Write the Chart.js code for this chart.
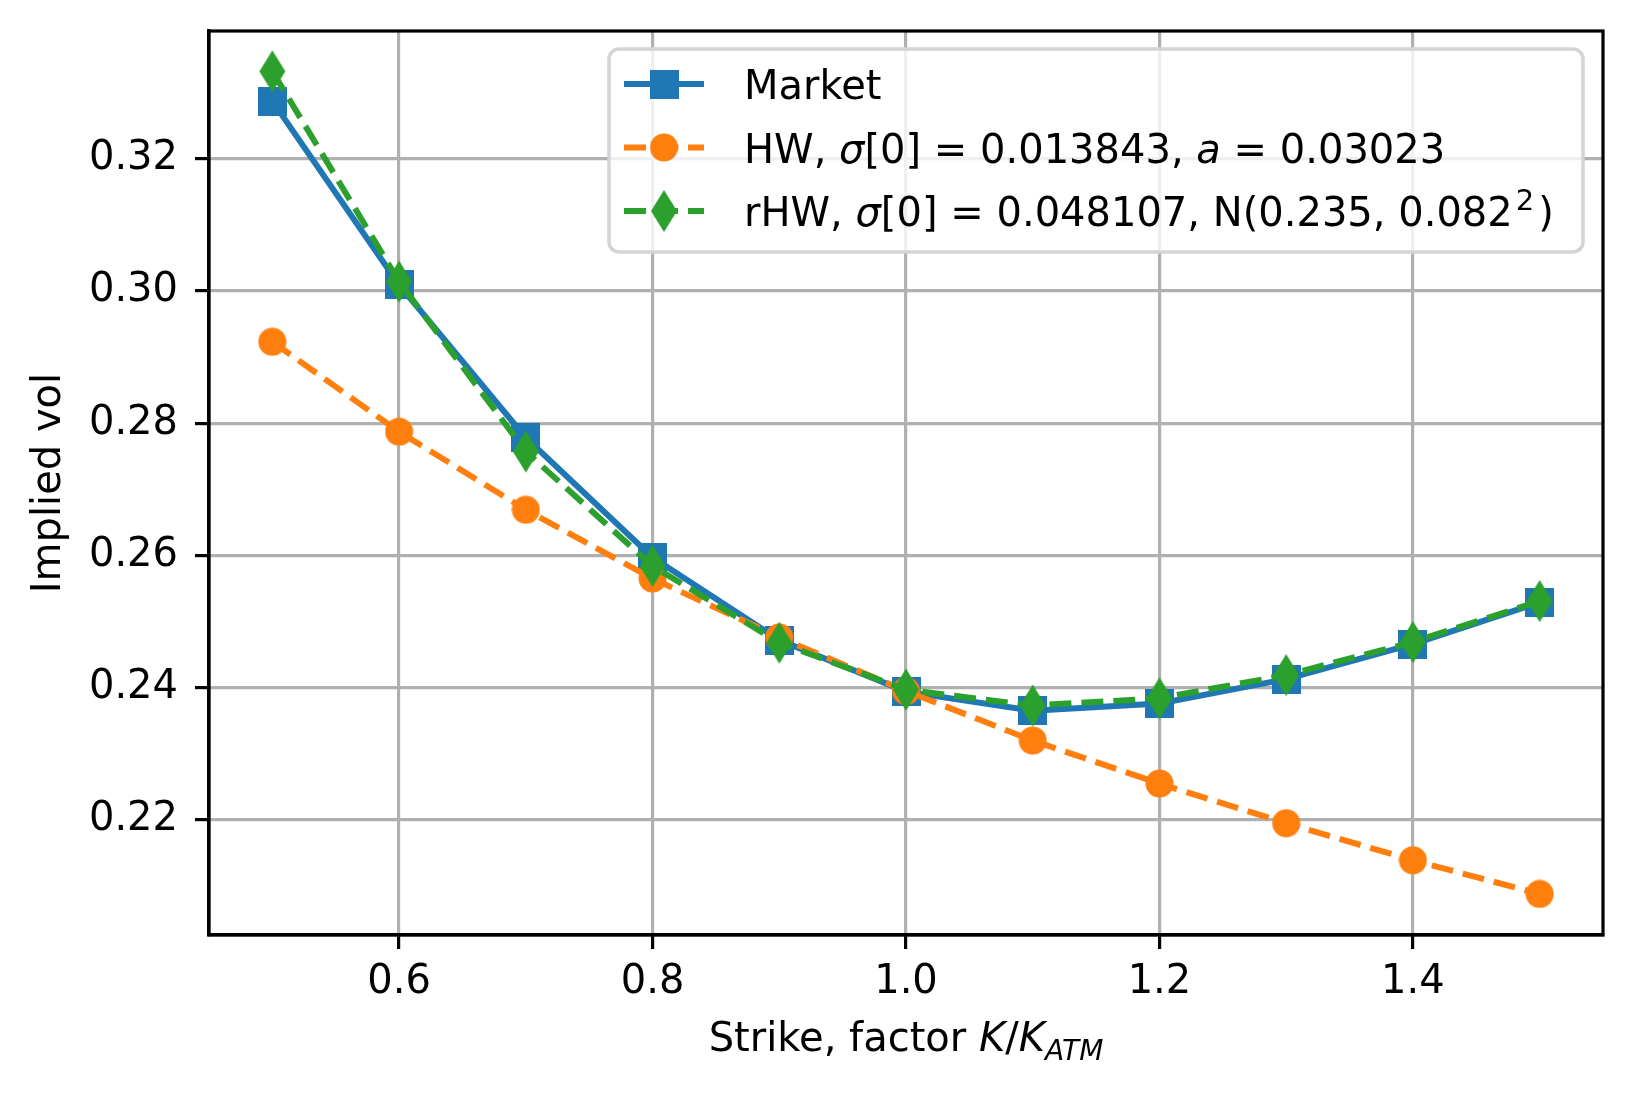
<!DOCTYPE html>
<html>
<head>
<meta charset="utf-8">
<script src="https://cdn.jsdelivr.net/npm/chart.js@4.4.1/dist/chart.umd.min.js"></script>
<style>
  html, body { margin: 0; padding: 0; background: #fff; }
  canvas { display: block; }
</style>
</head>
<body>
<canvas id="myChart" width="1633" height="1093"></canvas>
<script>
/* values */
const strikes = [0.5, 0.6, 0.7, 0.8, 0.9, 1.0, 1.1, 1.2, 1.3, 1.4, 1.5];
const market  = [0.3287, 0.3009, 0.2778, 0.2597, 0.2472, 0.2394, 0.2365, 0.2376, 0.2413, 0.2466, 0.2529];
const hw      = [0.2923, 0.2787, 0.2669, 0.2565, 0.2476, 0.2395, 0.2320, 0.2255, 0.2195, 0.2139, 0.2088];
const rhw     = [0.3332, 0.3014, 0.2757, 0.2584, 0.2468, 0.2397, 0.2373, 0.2384, 0.2419, 0.2469, 0.2531];

const xLimits = [0.45, 1.55];
const yLimits = [0.2026, 0.3393];
const xStep = 0.2;
const yStep = 0.02;

const BLUE = '#1f77b4', ORANGE = '#ff7f0e', GREEN = '#2ca02c';
const FONT = '"DejaVu Sans", sans-serif';
const dash = [22, 10];

// marker images, same ones used for the legend
function marker(w, h, color, draw){
  const c = document.createElement('canvas');
  c.width = w; c.height = h;
  const g = c.getContext('2d');
  g.fillStyle = color;
  draw(g, w, h);
  return c;
}
const squareImg = marker(29, 29, BLUE, (g, w, h) => g.fillRect(0, 0, w, h));
const circleImg = marker(29, 29, ORANGE, (g, w, h) => {
  g.beginPath(); g.arc(w/2, h/2, 14, 0, Math.PI*2); g.fill();
});
const diamondImg = marker(28, 43, GREEN, (g, w, h) => {
  g.beginPath();
  g.moveTo(w/2, 0.5); g.lineTo(w-1, h/2); g.lineTo(w/2, h-0.5); g.lineTo(1, h/2);
  g.closePath(); g.fill();
});

function pts(ys){
  return strikes.map((x, i) => ({x: x, y: ys[i]}));
}

// draw a run of text pieces (italic, sub/superscript) starting at x
function richWidth(ctx, parts){
  let w = 0;
  parts.forEach(p => {
    ctx.font = (p.it ? 'italic ' : '') + (p.size || 40) + 'px ' + FONT;
    w += ctx.measureText(p.t).width + (p.gap || 0);
  });
  return w;
}
function drawRich(ctx, x, y, parts){
  ctx.textAlign = 'left';
  ctx.textBaseline = 'alphabetic';
  ctx.fillStyle = '#000';
  parts.forEach(p => {
    ctx.font = (p.it ? 'italic ' : '') + (p.size || 40) + 'px ' + FONT;
    ctx.fillText(p.t, x, y + (p.dy || 0));
    x += ctx.measureText(p.t).width + (p.gap || 0);
  });
}

const legendRows = [
  {color: BLUE, dash: [], img: squareImg, parts: [{t: 'Market'}]},
  {color: ORANGE, dash: dash, img: circleImg, parts: [
    {t: 'HW, '}, {t: 'σ', it: true}, {t: '[0] = 0.013843, '}, {t: 'a', it: true}, {t: ' = 0.03023'}]},
  {color: GREEN, dash: dash, img: diamondImg, parts: [
    {t: 'rHW, '}, {t: 'σ', it: true}, {t: '[0] = 0.048107, N(0.235, 0.082', gap: 3},
    {t: '2', size: 29, dy: -16, gap: 4}, {t: ')'}]}
];

const decorations = {
  id: 'decorations',
  afterDraw(chart){
    const ctx = chart.ctx;
    const a = chart.chartArea;
    ctx.save();
    // spines
    ctx.strokeStyle = '#000';
    ctx.lineWidth = 3.2;
    ctx.strokeRect(a.left, a.top, a.right - a.left, a.bottom - a.top);

    // axis titles
    const xt = [{t: 'Strike, factor '}, {t: 'K', it: true}, {t: '/'}, {t: 'K', it: true},
                {t: 'ATM', it: true, size: 28, dy: 9}];
    const cx = (a.left + a.right) / 2;
    drawRich(ctx, cx - richWidth(ctx, xt) / 2, 1051, xt);

    ctx.save();
    ctx.translate(60, (a.top + a.bottom) / 2);
    ctx.rotate(-Math.PI / 2);
    ctx.font = '40px ' + FONT;
    ctx.fillStyle = '#000';
    ctx.textAlign = 'center';
    ctx.textBaseline = 'alphabetic';
    ctx.fillText('Implied vol', 0, 0);
    ctx.restore();

    // legend box
    const bx = 609, by = 49, bw = 974, bh = 203;
    ctx.beginPath();
    ctx.roundRect(bx, by, bw, bh, 10);
    ctx.fillStyle = 'rgba(255,255,255,0.8)';
    ctx.fill();
    ctx.strokeStyle = '#d4d4d4';
    ctx.lineWidth = 3.5;
    ctx.stroke();

    legendRows.forEach((row, i) => {
      const cy = 84 + i * 63.5;
      ctx.beginPath();
      ctx.setLineDash(row.dash);
      ctx.strokeStyle = row.color;
      ctx.lineWidth = 6;
      ctx.moveTo(624, cy);
      ctx.lineTo(704, cy);
      ctx.stroke();
      ctx.setLineDash([]);
      ctx.drawImage(row.img, 664 - row.img.width / 2, cy - row.img.height / 2);
      drawRich(ctx, 744, cy + 15, row.parts);
    });
    ctx.restore();
  }
};

function line(label, ys, color, img, dashed, order){
  return {
    label: label,
    data: pts(ys),
    borderColor: color,
    backgroundColor: color,
    borderWidth: 6,
    borderDash: dashed ? dash : [],
    pointStyle: img,
    pointRadius: 14,
    tension: 0,
    order: order
  };
}

const ctx = document.getElementById('myChart');
const myChart = new Chart(ctx, {
  type: 'line',
  plugins: [decorations],
  data: {
    datasets: [
      line('Market', market, BLUE, squareImg, false, 3),
      line('HW', hw, ORANGE, circleImg, true, 2),
      line('rHW', rhw, GREEN, diamondImg, true, 1)
    ]
  },
  options: {
    responsive: false,
    animation: false,
    events: [],
    layout: { padding: { top: 31, right: 30, left: 0, bottom: 0 } },
    plugins: {
      legend: { display: false },
      tooltip: { enabled: false }
    },
    scales: {
      x: {
        type: 'linear',
        min: xLimits[0],
        max: xLimits[1],
        afterFit: s => { s.height = 158; s.paddingLeft = 0; s.paddingRight = 0; },
        grid: { color: '#b0b0b0', lineWidth: 3.2, tickLength: 14, tickColor: '#000', tickWidth: 3.2 },
        border: { color: '#000', width: 3.2 },
        ticks: {
          stepSize: xStep,
          includeBounds: false,
          padding: 10,
          color: '#000',
          font: { family: FONT, size: 40 },
          callback: v => v.toFixed(1)
        }
      },
      y: {
        min: yLimits[0],
        max: yLimits[1],
        afterFit: s => { s.width = 209; s.paddingTop = 0; s.paddingBottom = 0; },
        grid: { color: '#b0b0b0', lineWidth: 3.2, tickLength: 14, tickColor: '#000', tickWidth: 3.2 },
        border: { color: '#000', width: 3.2 },
        ticks: {
          stepSize: yStep,
          includeBounds: false,
          padding: 17,
          color: '#000',
          font: { family: FONT, size: 40 },
          callback: v => v.toFixed(2)
        }
      }
    }
  }
});
</script>
</body>
</html>
